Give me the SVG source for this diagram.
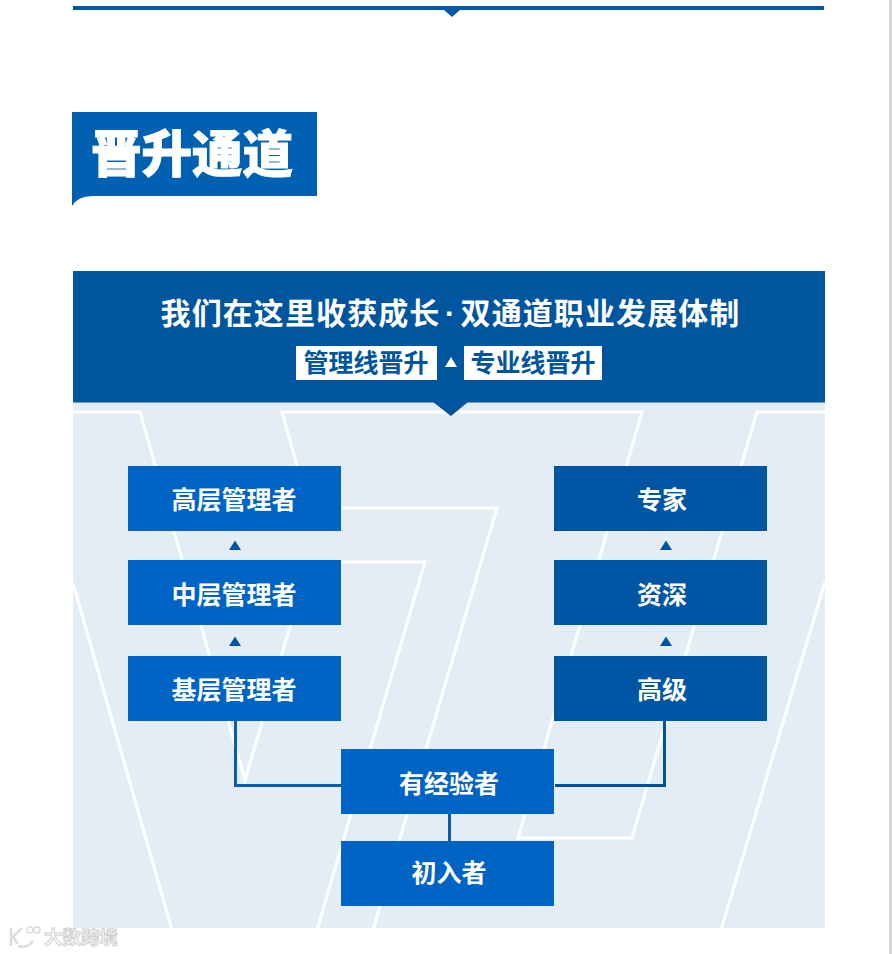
<svg xmlns="http://www.w3.org/2000/svg" width="892" height="954" viewBox="0 0 892 954">
<style>
text{font-family:"Noto Sans CJK SC","Noto Sans",sans-serif;font-weight:700;text-anchor:middle}
.bg{fill:none;stroke:#fff;stroke-width:3;stroke-linejoin:miter}
.mg{fill:#0064c4}.pro{fill:#0056a4}
.t{fill:#fff;font-size:25px}
.pill{fill:#fff}.pt{fill:#00559f;font-size:25px}
.tri{fill:#00559f}
.c{fill:none;stroke-width:3}
.h{fill:#fff;font-size:30px;letter-spacing:1.1px}
.wm{fill:none;stroke:#dcdcdc;stroke-width:2.5}
</style>
<rect x="0" y="0" width="892" height="954" fill="#fff"/>
<rect x="889" y="0" width="3" height="954" fill="#d4d4d4"/>
<g id="top-rule">
<rect x="73" y="6" width="751" height="4" fill="#0058a6"/>
<path d="M444 10H460L452 17Z" fill="#0058a6"/>
</g>
<g id="title-tag">
<path d="M72 112H317V196H92Q78 196 72 206Z" fill="#0060b2"/>
<text x="192" y="172" font-size="50.500" fill="#fff" stroke="#fff" stroke-width="1" style="font-weight:900">晋升通道</text>
</g>
<g id="panel">
<rect x="73" y="271" width="752" height="657" fill="#e4edf6"/>
<clipPath id="pc"><rect x="73" y="402" width="752" height="526"/></clipPath>
<g clip-path="url(#pc)">
<path class="bg" d="M73 412H140L245 780L309 562H425L317 930"/>
<path class="bg" d="M373 930L497 508H309L282 412H642L518 838H632L757 412H825"/>
<path class="bg" d="M73 583L172 930"/>
<path class="bg" d="M825 582L721 930"/>
</g>
<rect x="73" y="271" width="752" height="131.500" fill="#00559f"/>
<path d="M433 402H468L451 416Z" fill="#00559f"/>
<text class="h" x="300.500" y="324">我们在这里收获成长</text>
<text x="450" y="324" font-size="30" fill="#fff" style="font-family:'Liberation Sans',sans-serif">·</text>
<text class="h" x="600.500" y="324">双通道职业发展体制</text>
</g>
<g id="line-management"><rect class="pill" x="296" y="346" width="141" height="34"/><text class="pt" x="366" y="372">管理线晋升</text></g>
<path class="pill" d="M451 357L457 367H445Z"/>
<g id="line-professional"><rect class="pill" x="464" y="346" width="138" height="34"/><text class="pt" x="533" y="372">专业线晋升</text></g>
<g id="connectors">
<path class="c" stroke="#0a5ea8" d="M235.500 721V785.500H341"/>
<path class="c" stroke="#00529b" d="M555 785.500H664.500V721"/>
<path class="c" stroke="#0a5ea8" d="M449.500 814V841"/>
<path class="tri" d="M235 540.500L241 550H229Z"/>
<path class="tri" d="M235 636.500L241 646H229Z"/>
<path class="tri" d="M666 540.500L672 550H660Z"/>
<path class="tri" d="M666 636.500L672 646H660Z"/>
</g>
<g id="senior-manager"><rect class="mg" x="128" y="466" width="213" height="65"/><text class="t" x="234" y="509">高层管理者</text></g>
<g id="middle-manager"><rect class="mg" x="128" y="560" width="213" height="65"/><text class="t" x="234" y="603.500">中层管理者</text></g>
<g id="junior-manager"><rect class="mg" x="128" y="656" width="213" height="65"/><text class="t" x="234" y="698.500">基层管理者</text></g>
<g id="expert"><rect class="pro" x="554" y="466" width="213" height="65"/><text class="t" x="662" y="509">专家</text></g>
<g id="senior"><rect class="pro" x="554" y="560" width="213" height="65"/><text class="t" x="662" y="603.500">资深</text></g>
<g id="advanced"><rect class="pro" x="554" y="656" width="213" height="65"/><text class="t" x="662" y="698.500">高级</text></g>
<g id="experienced"><rect class="mg" x="341" y="749" width="213" height="65"/><text class="t" x="449" y="793">有经验者</text></g>
<g id="entry"><rect class="mg" x="341" y="841" width="213" height="65"/><text class="t" x="449" y="882">初入者</text></g>
<g id="watermark">
<path class="wm" d="M11 928V946M22 928L13 937L18 944M18 946Q27 949 33 941"/>
<circle class="wm" cx="30" cy="930" r="3" style="stroke-width:1.500"/>
<circle class="wm" cx="37" cy="930" r="3" style="stroke-width:1.500"/>
<text x="81" y="944" font-size="18.500" fill="#fff" stroke="#d0d0d0" stroke-width="1">大数跨境</text>
</g>
</svg>
